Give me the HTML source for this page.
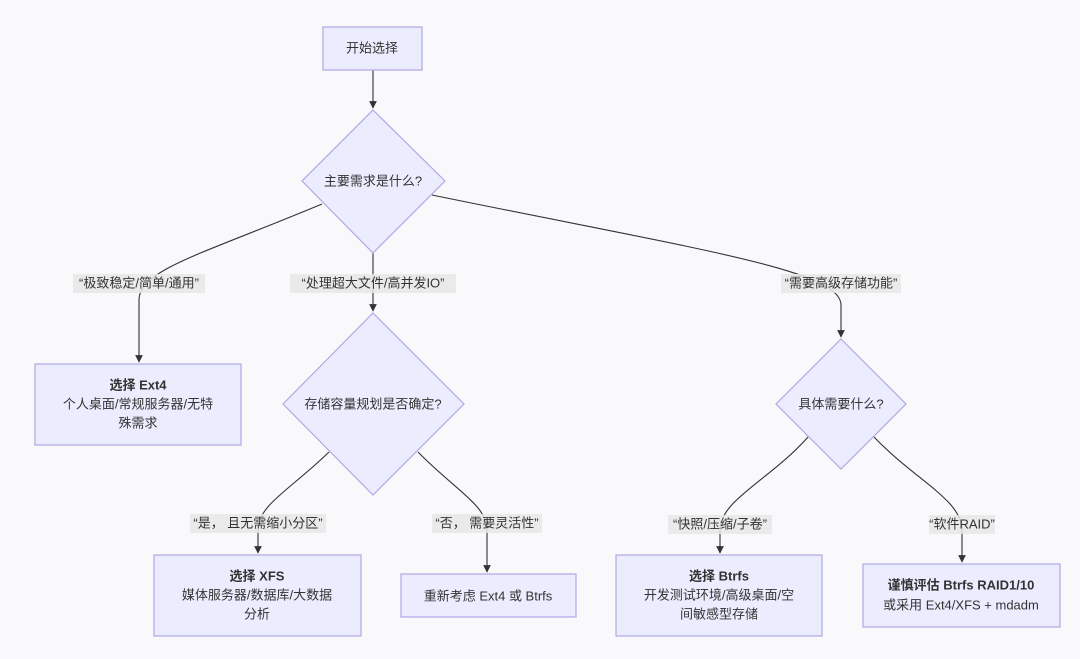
<!DOCTYPE html>
<html><head><meta charset="utf-8"><style>
html,body{margin:0;padding:0;background:#f9f9fc;}
svg{display:block;}
text{font-family:"Liberation Sans","Noto Sans CJK SC",sans-serif;font-size:13px;fill:#333;text-anchor:middle;dominant-baseline:central;}
.n{fill:#ececff;stroke:#b2a6e4;stroke-width:1.2;}
.e{fill:none;stroke:#333;stroke-width:1.1;}
.lb{fill:#e8e8e8;opacity:0.85;}
.b{font-weight:bold;}
</style></head><body>
<svg width="1080" height="659" viewBox="0 0 1080 659" xmlns="http://www.w3.org/2000/svg">
<defs><marker id="a" viewBox="0 0 10 10" refX="9" refY="5" markerWidth="7" markerHeight="7" orient="auto"><path d="M0,0L10,5L0,10z" fill="#333"/></marker></defs>
<!-- edges -->
<path class="e" d="M373,70 L373,108" marker-end="url(#a)"/>
<path class="e" d="M322,204 C200,255 139,270 139,300 L139,362" marker-end="url(#a)"/>
<path class="e" d="M373,253 L373,311" marker-end="url(#a)"/>
<path class="e" d="M432,195 C700,250 841,270 841,305 L841,337" marker-end="url(#a)"/>
<path class="e" d="M329,452 C290,490 258,505 258,530 L258,553" marker-end="url(#a)"/>
<path class="e" d="M418,452 C455,490 487,505 487,530 L487,572" marker-end="url(#a)"/>
<path class="e" d="M808,437 C770,480 720,500 720,530 L720,553" marker-end="url(#a)"/>
<path class="e" d="M874,437 C915,480 962,500 962,530 L962,562" marker-end="url(#a)"/>
<!-- nodes -->
<rect class="n" x="323" y="27" width="99" height="43"/>
<text x="372" y="48">开始选择</text>
<polygon class="n" points="373,110 445,181 373,253 302,181"/>
<text x="373" y="181">主要需求是什么?</text>
<rect class="n" x="35" y="364" width="206" height="81"/>
<text x="138" y="385" class="b">选择 Ext4</text>
<text x="138" y="404">个人桌面/常规服务器/无特</text>
<text x="138" y="423">殊需求</text>
<polygon class="n" points="373,313 464,404 373,495 283,404"/>
<text x="373" y="404">存储容量规划是否确定?</text>
<polygon class="n" points="841,339 906,404 841,469 776,404"/>
<text x="841" y="404">具体需要什么?</text>
<rect class="n" x="154" y="555" width="207" height="81"/>
<text x="257" y="576" class="b">选择 XFS</text>
<text x="257" y="595">媒体服务器/数据库/大数据</text>
<text x="257" y="614">分析</text>
<rect class="n" x="401" y="574" width="175" height="43"/>
<text x="488" y="596">重新考虑 Ext4 或 Btrfs</text>
<rect class="n" x="616" y="555" width="206" height="81"/>
<text x="719" y="576" class="b">选择 Btrfs</text>
<text x="719" y="595">开发测试环境/高级桌面/空</text>
<text x="719" y="614">间敏感型存储</text>
<rect class="n" x="863" y="564" width="197" height="63"/>
<text x="961" y="585" class="b">谨慎评估 Btrfs RAID1/10</text>
<text x="961" y="605">或采用 Ext4/XFS + mdadm</text>
<!-- labels -->
<rect class="lb" x="73" y="274" width="132" height="19"/>
<text x="139" y="283">“极致稳定/简单/通用”</text>
<rect class="lb" x="290" y="274" width="166" height="19"/>
<text x="373" y="283">“处理超大文件/高并发IO”</text>
<rect class="lb" x="781" y="274" width="120" height="19"/>
<text x="841" y="283">“需要高级存储功能”</text>
<rect class="lb" x="190" y="514" width="136" height="19"/>
<text x="258" y="523">“是， 且无需缩小分区”</text>
<rect class="lb" x="432" y="514" width="110" height="19"/>
<text x="487" y="523">“否， 需要灵活性”</text>
<rect class="lb" x="668" y="515" width="104" height="19"/>
<text x="720" y="524">“快照/压缩/子卷”</text>
<rect class="lb" x="929" y="515" width="66" height="19"/>
<text x="962" y="524">“软件RAID”</text>
</svg>
</body></html>
